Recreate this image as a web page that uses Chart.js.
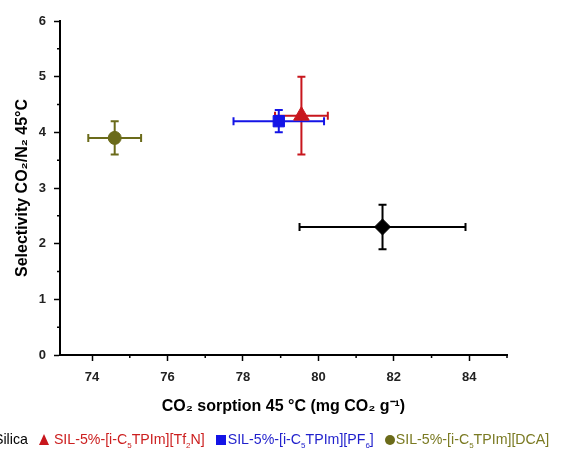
<!DOCTYPE html>
<html lang="en">
  <head>
    <meta charset="utf-8" />
    <title>selectivity vs sorption</title>
    <script src="https://cdn.jsdelivr.net/npm/chart.js@4.4.1/dist/chart.umd.min.js"></script>
    <style>
      html, body { margin: 0; padding: 0; background: #fff; overflow: hidden; }
      .wrap { position: relative; width: 562px; height: 454px; }
      #legend {
        position: absolute; left: -19px; top: 431px; white-space: nowrap;
        font-family: 'Liberation Sans', Arial, sans-serif; font-size: 14.2px;
      }
      #legend span.item { margin-right: 11px; }
      #legend sub { font-size: 8px; }
      .mk { display: inline-block; vertical-align: -1px; }
    </style>
  </head>
  <body>
    <div class="wrap">
      <canvas id="myChart" width="562" height="454"></canvas>
      <div id="legend"></div>
    </div>

    <script>
      // values
      const samples = ['Silica', 'SIL-5%-[i-C<sub>5</sub>TPIm][Tf<sub>2</sub>N]', 'SIL-5%-[i-C<sub>5</sub>TPIm][PF<sub>6</sub>]', 'SIL-5%-[i-C<sub>5</sub>TPIm][DCA]'];
      const sorption = [81.7, 79.55, 78.95, 74.6];
      const selectivity = [2.3, 4.3, 4.2, 3.9];
      const sorptionErr = [2.2, 0.7, 1.2, 0.7];
      const selectivityErr = [0.4, 0.7, 0.2, 0.3];
      const colors = ['#000000', '#c8161d', '#1414e6', '#6b6b1a'];
      const textColors = ['#000000', '#cc1f1f', '#1f1fcc', '#7a7a22'];
      const shapes = ['rectRot', 'triangle', 'rect', 'circle'];
      const sizes = [8, 9, 8, 6.5];
      const xTicks = [74, 76, 78, 80, 82, 84];
      const yTicks = [0, 1, 2, 3, 4, 5, 6];

      const font = "'Liberation Sans', Arial, sans-serif";

      // error bars + minor ticks, drawn through the chart scales
      const errorBars = {
        id: 'errorBars',
        beforeDatasetsDraw(chart) {
          const ctx = chart.ctx;
          const xs = chart.scales.x, ys = chart.scales.y;
          const cap = 4;
          ctx.save();
          ctx.lineWidth = 2;
          sorption.forEach((v, i) => {
            ctx.strokeStyle = colors[i];
            const px = xs.getPixelForValue(v), py = ys.getPixelForValue(selectivity[i]);
            const x0 = xs.getPixelForValue(v - sorptionErr[i]), x1 = xs.getPixelForValue(v + sorptionErr[i]);
            const y0 = ys.getPixelForValue(selectivity[i] - selectivityErr[i]), y1 = ys.getPixelForValue(selectivity[i] + selectivityErr[i]);
            ctx.beginPath();
            ctx.moveTo(x0, py); ctx.lineTo(x1, py);
            ctx.moveTo(x0, py - cap); ctx.lineTo(x0, py + cap);
            ctx.moveTo(x1, py - cap); ctx.lineTo(x1, py + cap);
            ctx.moveTo(px, y0); ctx.lineTo(px, y1);
            ctx.moveTo(px - cap, y0); ctx.lineTo(px + cap, y0);
            ctx.moveTo(px - cap, y1); ctx.lineTo(px + cap, y1);
            ctx.stroke();
          });
          // minor ticks
          ctx.strokeStyle = '#000';
          ctx.lineWidth = 1.5;
          ctx.beginPath();
          for (let v = 75; v <= 85; v += 2) {
            const p = xs.getPixelForValue(v);
            ctx.moveTo(p, xs.top); ctx.lineTo(p, xs.top + 3);
          }
          for (let v = 0.5; v < 6; v += 1) {
            const p = ys.getPixelForValue(v);
            ctx.moveTo(ys.right, p); ctx.lineTo(ys.right - 3, p);
          }
          ctx.stroke();
          ctx.restore();
        }
      };

      const myChart = document.getElementById('myChart').getContext('2d');
      let statChart = new Chart(myChart, {
        type: 'scatter',
        data: {
          datasets: sorption.map((v, i) => ({
            label: samples[i],
            data: [{ x: v, y: selectivity[i] }],
            pointStyle: shapes[i],
            pointRadius: sizes[i],
            backgroundColor: colors[i],
            borderColor: colors[i],
            borderWidth: 1
          }))
        },
        options: {
          responsive: false,
          animation: false,
          layout: { padding: { left: 0, right: 55, top: 21, bottom: 29 } },
          plugins: {
            legend: { display: false },
            tooltip: { enabled: false }
          },
          scales: {
            x: {
              type: 'linear',
              min: 73.15,
              max: 85,
              afterBuildTicks: (s) => { s.ticks = xTicks.map(v => ({ value: v })); },
              afterFit: (s) => { s.height = 70; },
              border: { color: '#000', width: 2 },
              grid: { drawOnChartArea: false, tickLength: 6, tickWidth: 1.5, tickColor: '#000' },
              ticks: { color: '#222', padding: 9, font: { family: font, size: 13, weight: 'bold' } },
              title: {
                display: true,
                text: 'CO\u2082 sorption 45 \u00b0C (mg CO\u2082 g\u207b\u00b9)',
                color: '#000',
                padding: { top: 0, bottom: 9 },
                font: { family: font, size: 16, weight: 'bold' }
              }
            },
            y: {
              type: 'linear',
              min: 0,
              max: 6,
              afterBuildTicks: (s) => { s.ticks = yTicks.map(v => ({ value: v })); },
              afterFit: (s) => { s.width = 60; },
              border: { color: '#000', width: 2 },
              grid: { drawOnChartArea: false, tickLength: 6, tickWidth: 1.5, tickColor: '#000' },
              ticks: { color: '#222', padding: 8, font: { family: font, size: 13, weight: 'bold' } },
              title: {
                display: true,
                text: 'Selectivity CO\u2082/N\u2082 45\u00b0C',
                color: '#000',
                padding: { top: 13, bottom: 0 },
                font: { family: font, size: 16, weight: 'bold' }
              }
            }
          }
        },
        plugins: [errorBars]
      });

      // html legend, cut at the left edge like the original
      const markerHtml = (i) => {
        const c = colors[i];
        if (shapes[i] === 'triangle') return `<span class="mk" style="margin-right:5px;width:0;height:0;border-left:5px solid transparent;border-right:5px solid transparent;border-bottom:11px solid ${c}"></span>`;
        if (shapes[i] === 'rect') return `<span class="mk" style="margin-right:2px;width:10px;height:10px;background:${c}"></span>`;
        if (shapes[i] === 'circle') return `<span class="mk" style="margin-right:1px;width:10px;height:10px;border-radius:50%;background:${c}"></span>`;
        return `<span class="mk" style="margin-right:5px;width:8px;height:8px;transform:rotate(45deg);background:${c}"></span>`;
      };
      document.getElementById('legend').innerHTML = samples.map((s, i) =>
        `<span class="item" style="color:${textColors[i]}">${markerHtml(i)}${s}</span>`).join('');
    </script>
  </body>
</html>
